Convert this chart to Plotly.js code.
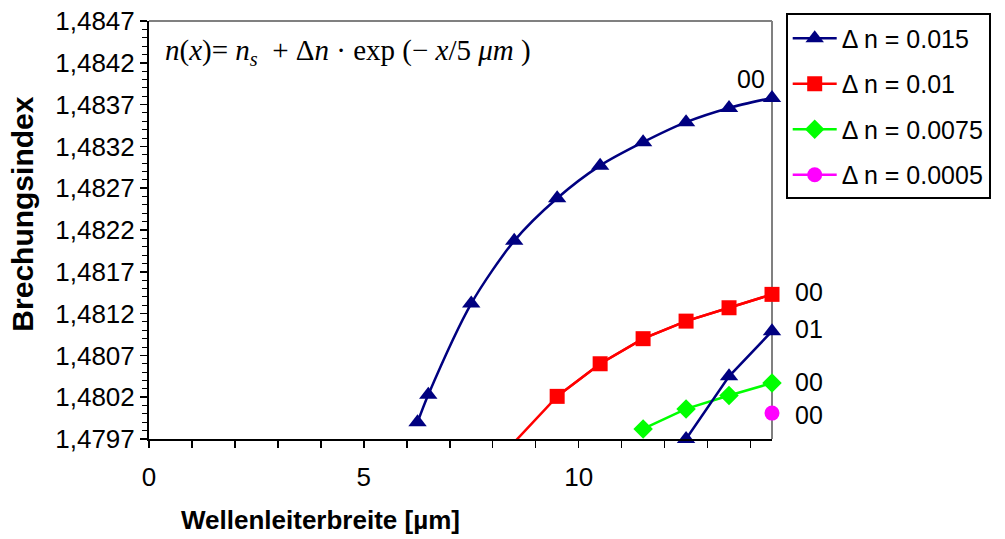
<!DOCTYPE html>
<html>
<head>
<meta charset="utf-8">
<script src="https://cdn.plot.ly/plotly-3.0.1.min.js"></script>
<style>html,body{margin:0;padding:0;background:#fff;}#chart{width:1005px;height:539px;}</style>
</head>
<body>
<div id="chart"></div>
<script>
// Data
const seriesNames = ['\u0394 n = 0.015', '\u0394 n = 0.01', '\u0394 n = 0.0075', '\u0394 n = 0.0005'];

const xBlue00 = [6.25, 6.5, 7.5, 8.5, 9.5, 10.5, 11.5, 12.5, 13.5, 14.5];
const yBlue00 = [1.4799, 1.48023, 1.48132, 1.48207, 1.48258, 1.48297, 1.48325, 1.48349, 1.48366, 1.48378];

const xBlue01 = [12.5, 13.5, 14.5];
const yBlue01 = [1.4797, 1.48045, 1.48099];

const xRed = [8.5, 9.5, 10.5, 11.5, 12.5, 13.5, 14.5];
const yRed = [1.47966, 1.48021, 1.4806, 1.4809, 1.48111, 1.48127, 1.48143];

const xGreen = [11.5, 12.5, 13.5, 14.5];
const yGreen = [1.47982, 1.48006, 1.48022, 1.48037];

const xMagenta = [14.5];
const yMagenta = [1.48001];

const modeLabels = ['00', '00', '01', '00', '00'];

const xTickVals = [0,1,2,3,4,5,6,7,8,9,10,11,12,13,14];
const xTickText = ['0','','','','','5','','','','','10','','','',''];

const formulaText = '<i>n</i>(<i>x</i>)= <i>n</i><sub><i>s</i></sub>  + \u0394<i>n</i> \u00b7 exp (\u2212 <i>x</i>/5 <i>\u03bcm</i> )';
const xTitle = 'Wellenleiterbreite [\u00b5m]';
const yTitle = 'Brechungsindex';

const NAVY = '#000080', RED = '#ff0000', GREEN = '#00ff00', MAG = '#ff00ff';
const font = 'Liberation Sans, Arial, sans-serif';

// red series: the first point lies below the axis minimum, so its line is clipped
// at the axis while the visible markers are drawn unclipped (like the edge markers)
const redVisible = xRed.map((x, i) => yRed[i] >= 1.4797);
const traces = [
  {x: xRed, y: yRed, mode: 'lines', showlegend: false, hoverinfo: 'skip',
   line: {color: RED, width: 2.5}},
  {x: xBlue00, y: yBlue00, name: seriesNames[0], mode: 'lines+markers', legendgroup: 'a', cliponaxis: false,
   line: {color: NAVY, width: 2.5, shape: 'spline', smoothing: 0.8},
   marker: {symbol: 'triangle-up', size: 16, color: NAVY}},
  {x: xRed.filter((_, i) => redVisible[i]), y: yRed.filter((_, i) => redVisible[i]), name: seriesNames[1],
   mode: 'lines+markers', legendgroup: 'b', cliponaxis: false,
   line: {color: RED, width: 2.5}, marker: {symbol: 'square', size: 15, color: RED}},
  {x: xGreen, y: yGreen, name: seriesNames[2], mode: 'lines+markers', legendgroup: 'c', cliponaxis: false,
   line: {color: GREEN, width: 2.5}, marker: {symbol: 'diamond', size: 15, color: GREEN}},
  {x: xMagenta, y: yMagenta, name: seriesNames[3], mode: 'lines+markers', legendgroup: 'd', cliponaxis: false,
   line: {color: MAG, width: 2.5}, marker: {symbol: 'circle', size: 15, color: MAG}},
  {x: xBlue01, y: yBlue01, name: seriesNames[0] + ' (01)', mode: 'lines+markers', showlegend: false,
   cliponaxis: false,
   line: {color: NAVY, width: 2.5}, marker: {symbol: 'triangle-up', size: 16, color: NAVY}}
];

const ann = [
  {xref: 'paper', yref: 'paper', x: 0.022, y: 0.925, xanchor: 'left', yanchor: 'middle',
   text: formulaText, showarrow: false, font: {family: 'Liberation Serif, Times New Roman, serif', size: 29, color: '#000'}},
  {xref: 'paper', yref: 'paper', x: 0.2745, y: -0.193, xanchor: 'center', yanchor: 'middle',
   text: '<b>' + xTitle + '</b>', showarrow: false, font: {family: font, size: 26, color: '#000'}},
  {xref: 'paper', yref: 'paper', x: -0.203, y: 0.538, xanchor: 'center', yanchor: 'middle', textangle: -90,
   text: '<b>' + yTitle + '</b>', showarrow: false, font: {family: font, size: 30, color: '#000'}},
  {x: xBlue00[xBlue00.length-1], y: yBlue00[yBlue00.length-1], text: modeLabels[0], showarrow: false,
   xanchor: 'right', yanchor: 'middle', xshift: -5, yshift: 19, font: {family: font, size: 25, color: '#000'}},
  {x: xRed[xRed.length-1], y: yRed[yRed.length-1], text: modeLabels[1], showarrow: false,
   xanchor: 'left', yanchor: 'middle', xshift: 21, yshift: 2, font: {family: font, size: 25, color: '#000'}},
  {x: xBlue01[xBlue01.length-1], y: yBlue01[yBlue01.length-1], text: modeLabels[2], showarrow: false,
   xanchor: 'left', yanchor: 'middle', xshift: 21, yshift: 2, font: {family: font, size: 25, color: '#000'}},
  {x: xGreen[xGreen.length-1], y: yGreen[yGreen.length-1], text: modeLabels[3], showarrow: false,
   xanchor: 'left', yanchor: 'middle', xshift: 21, yshift: 1, font: {family: font, size: 25, color: '#000'}},
  {x: xMagenta[xMagenta.length-1], y: yMagenta[yMagenta.length-1], text: modeLabels[4], showarrow: false,
   xanchor: 'left', yanchor: 'middle', xshift: 21, yshift: -2, font: {family: font, size: 25, color: '#000'}}
];

const layout = {
  width: 1005, height: 539,
  margin: {l: 149, r: 233, t: 21, b: 100, pad: 0},
  paper_bgcolor: '#fff', plot_bgcolor: '#fff',
  separators: ',.',
  font: {family: font, size: 25, color: '#000'},
  showlegend: true,
  legend: {x: 1.022, y: 1.018, xanchor: 'left', yanchor: 'top', bordercolor: '#000', borderwidth: 2,
           bgcolor: '#fff', font: {family: font, size: 25, color: '#000'}, tracegroupgap: 10, itemwidth: 44},
  xaxis: {range: [0, 14.5], tickmode: 'array', tickvals: xTickVals, ticktext: xTickText,
          ticks: 'outside', ticklen: 7, tickwidth: 1.5, tickcolor: '#000', ticklabelstandoff: 7,
          showline: true, linecolor: '#000', linewidth: 2, showgrid: false, zeroline: false,
          tickfont: {size: 26}, fixedrange: true},
  yaxis: {range: [1.4797, 1.4847], tick0: 1.4797, dtick: 0.0005, tickformat: '.4f',
          ticks: 'outside', ticklen: 7, tickwidth: 1.5, tickcolor: '#000',
          minor: {dtick: 0.0001, tick0: 1.4797, ticks: 'outside', ticklen: 5, tickwidth: 1, tickcolor: '#000', showgrid: false},
          showline: true, linecolor: '#000', linewidth: 2, showgrid: false, zeroline: false,
          tickfont: {size: 26}, fixedrange: true},
  shapes: [
    {type: 'line', xref: 'paper', yref: 'paper', x0: 0, x1: 1, y0: 1, y1: 1, line: {color: '#808080', width: 2}, layer: 'below'},
    {type: 'line', xref: 'paper', yref: 'paper', x0: 1, x1: 1, y0: 0, y1: 1, line: {color: '#808080', width: 2}, layer: 'below'}
  ],
  annotations: ann
};

Plotly.newPlot('chart', traces, layout, {displayModeBar: false, staticPlot: true});
</script>
</body>
</html>
